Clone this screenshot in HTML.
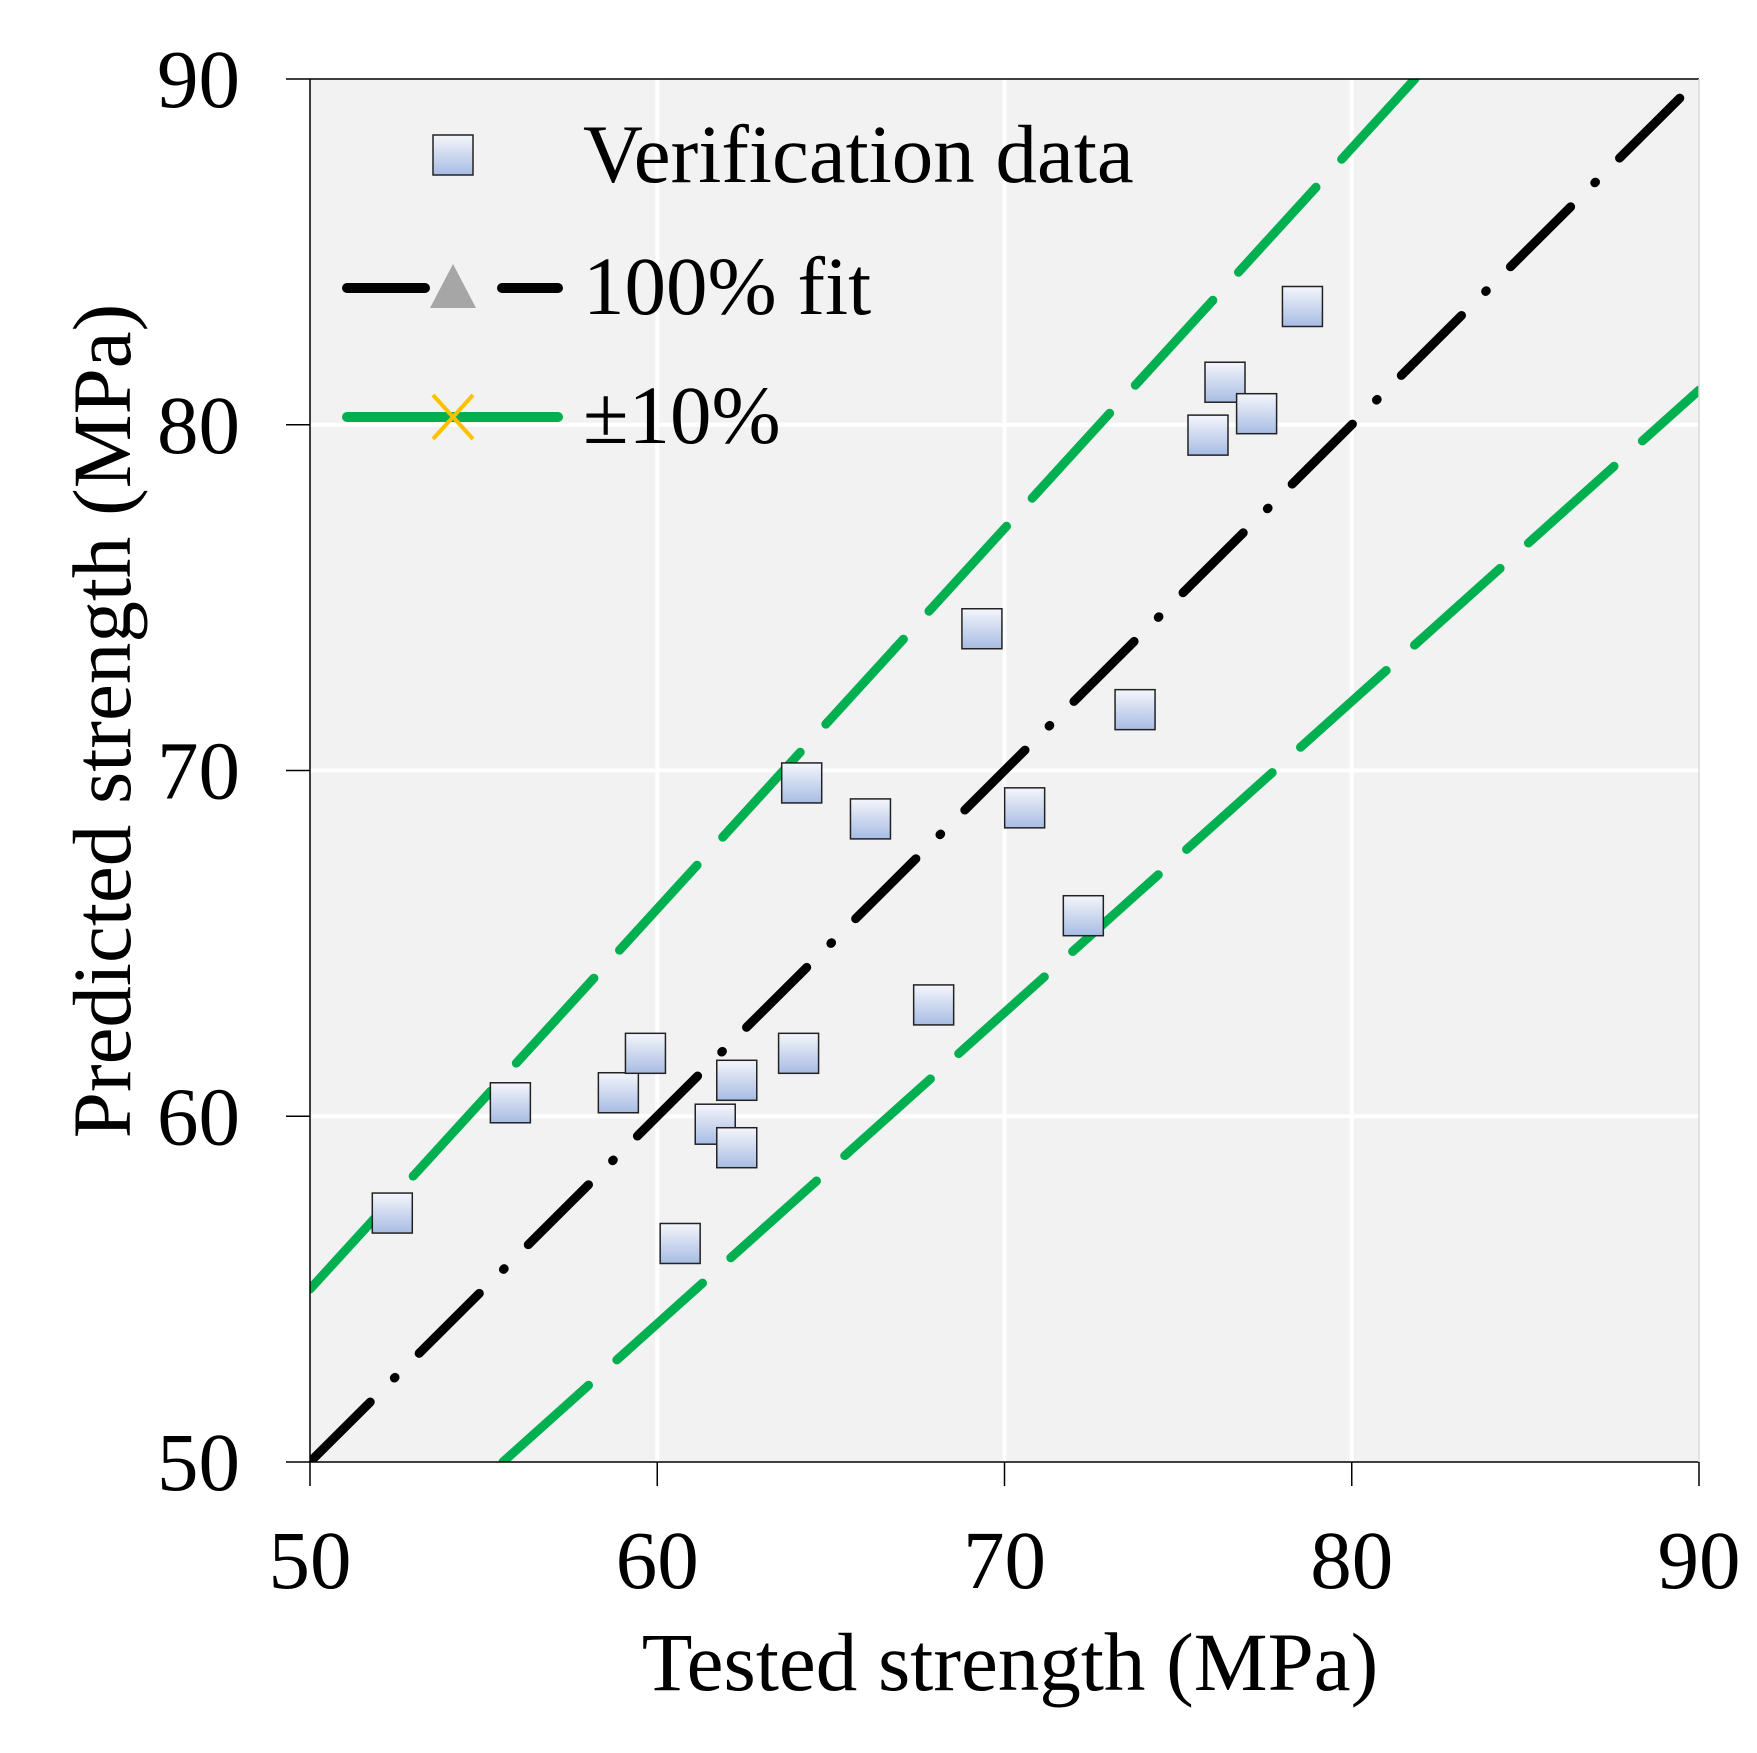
<!DOCTYPE html>
<html><head><meta charset="utf-8"><style>
html,body{margin:0;padding:0;background:#fff}
svg text{font-family:"Liberation Serif",serif;fill:#000}
</style></head><body>
<svg id="chart" width="1757" height="1748" viewBox="0 0 1757 1748" xmlns="http://www.w3.org/2000/svg">
<defs>
<linearGradient id="mg" x1="0" y1="0" x2="0" y2="1"><stop offset="0" stop-color="#f4f6fb"/><stop offset="1" stop-color="#a7bce4"/></linearGradient>
<clipPath id="pc"><rect x="310" y="79" width="1389" height="1383"/></clipPath>
</defs>
<rect x="310" y="79" width="1389" height="1383" fill="#f2f2f2"/>
<g id="grid"></g>
<g id="lines" clip-path="url(#pc)"></g>
<g id="pts"></g>
<g id="axes"></g>
<text x="1010" y="1690" font-size="83" text-anchor="middle">Tested strength (MPa)</text>
<text transform="translate(130,721) rotate(-90)" font-size="83" text-anchor="middle">Predicted strength (MPa)</text>
<g>
<rect x="433" y="135" width="40" height="40" fill="url(#mg)" stroke="#222" stroke-width="1.5"/>
<text x="583" y="182" font-size="83">Verification data</text>
<line x1="347" y1="288" x2="425" y2="288" stroke="#000" stroke-width="10" stroke-linecap="round"/>
<line x1="502" y1="288" x2="558" y2="288" stroke="#000" stroke-width="10" stroke-linecap="round"/>
<polygon points="453,264 430,308 476,308" fill="#a6a6a6"/>
<text x="583" y="314" font-size="83">100% fit</text>
<line x1="347" y1="417" x2="558" y2="417" stroke="#00b050" stroke-width="10" stroke-linecap="round"/>
<path d="M433,395 L473,439 M473,395 L433,439" stroke="#ffc000" stroke-width="4"/>
<text x="583" y="443" font-size="83">±10%</text>
</g>
</svg>
<script>
const xTicks=[50,60,70,80,90];
const yTicks=[50,60,70,80,90];
const testedX=[52.37,55.77,58.88,59.66,60.66,61.67,62.29,62.29,64.07,64.16,66.14,67.96,69.35,70.58,72.27,73.76,75.86,76.35,77.26,78.58];
const predictedY=[57.2,60.39,60.68,61.82,56.32,59.77,61.04,59.09,61.82,69.64,68.6,63.22,74.1,68.92,65.8,71.76,79.7,81.23,80.32,83.42];
const fitFactors=[1.0,1.1,0.9];
const L=310,R=1699,T=79,B=1462,MIN=50,MAX=90;
const sx=v=>L+(v-MIN)/(MAX-MIN)*(R-L);
const sy=v=>B-(v-MIN)/(MAX-MIN)*(B-T);
const NS="http://www.w3.org/2000/svg";
function mk(tag,attrs,parent){const e=document.createElementNS(NS,tag);for(const k in attrs)e.setAttribute(k,attrs[k]);parent.appendChild(e);return e;}
const grid=document.getElementById('grid'),axes=document.getElementById('axes'),lines=document.getElementById('lines'),pts=document.getElementById('pts');
xTicks.forEach(t=>{
  if(t>MIN&&t<MAX){const g=mk('line',{x1:sx(t),x2:sx(t),y1:T,y2:B,stroke:'#fff','stroke-width':4},grid);
  
  }
  const tk=mk('line',{x1:sx(t),x2:sx(t),y1:B,y2:B+24,stroke:'#000','stroke-width':1.5},axes);
  
  
  const tx=mk('text',{x:sx(t),y:1588,'font-size':83,'text-anchor':'middle'},axes);tx.textContent=t;
  
  
});
yTicks.forEach(t=>{
  if(t>MIN&&t<MAX){const g=mk('line',{x1:L,x2:R,y1:sy(t),y2:sy(t),stroke:'#fff','stroke-width':4},grid);
  
  }
  const tk=mk('line',{x1:L-24,x2:L,y1:sy(t),y2:sy(t),stroke:'#000','stroke-width':1.5},axes);
  
  
  const tx=mk('text',{x:240,y:sy(t)+28,'font-size':83,'text-anchor':'end'},axes);tx.textContent=t;
  
  
});
[[L,T,L,B],[L,B,R,B],[L,T,R,T]].forEach(a=>{const ln=mk('line',{x1:a[0],y1:a[1],x2:a[2],y2:a[3],stroke:'#000','stroke-width':1.5},axes);
  
  });
mk('line',{x1:R,y1:T,x2:R,y2:B,stroke:'#d9d9d9','stroke-width':1.5},axes);
fitFactors.forEach(f=>{
  const x2=Math.min(MAX,MAX/f);
  const x1=Math.max(MIN,MIN/f);
  const isFit=f===1;
  const ln=mk('line',{x1:sx(x1),y1:sy(x1*f),x2:sx(x2),y2:sy(x2*f),stroke:isFit?'#000':'#00b050','stroke-width':9,'stroke-linecap':'round','stroke-dasharray':isFit?'85 34 1 34':'115 38'},lines);
  
  
});
testedX.forEach((x,i)=>{
  const r=mk('rect',{x:sx(x)-20,y:sy(predictedY[i])-20,width:40,height:40,fill:'url(#mg)',stroke:'#222','stroke-width':1.5},pts);
  
  
});
</script>
</body></html>
